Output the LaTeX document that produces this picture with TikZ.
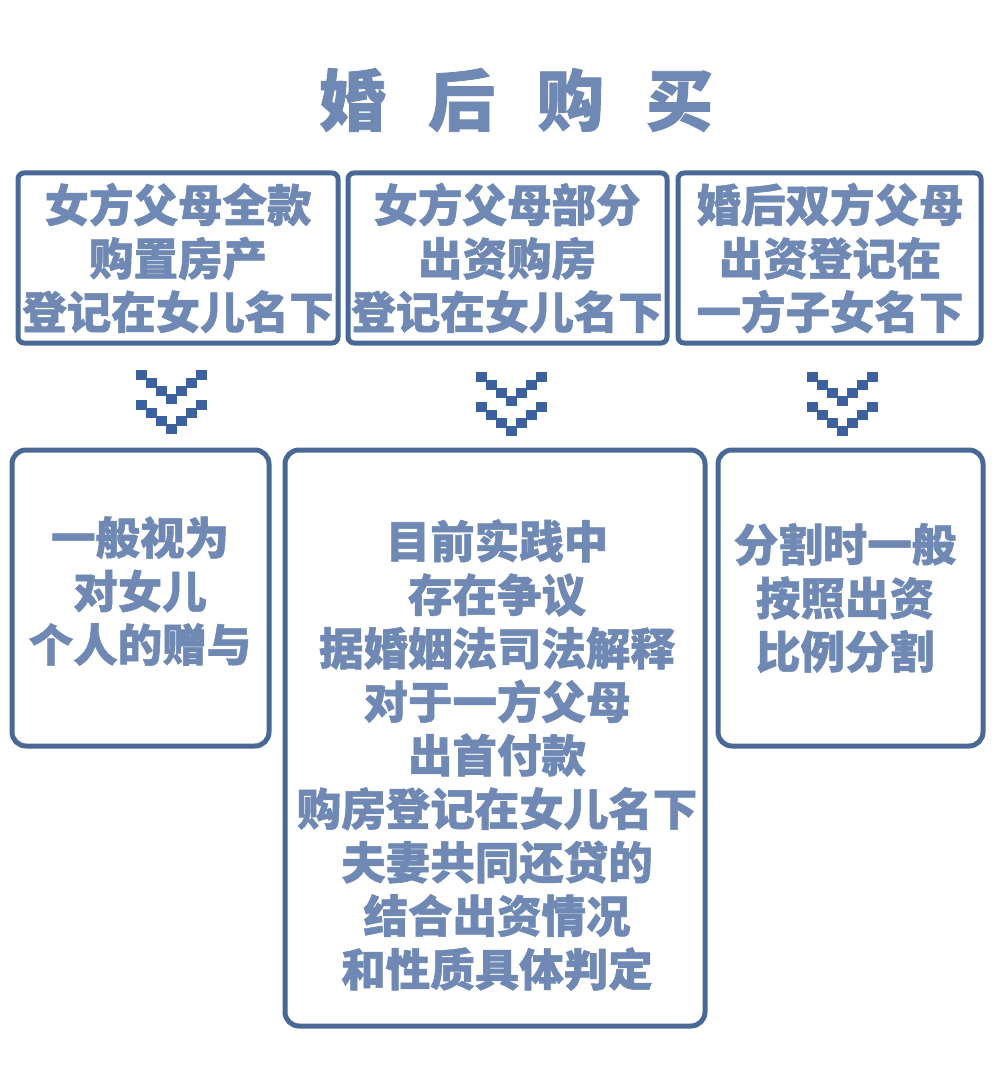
\documentclass[tikz,border=0pt]{standalone}
\usepackage{fontspec}
\newfontfamily\cjk[BoldFeatures={FakeBold=1.2}]{Noto Sans CJK SC}
\definecolor{txt}{HTML}{6F89B4}
\definecolor{frm}{HTML}{4A6896}
\definecolor{chev}{HTML}{3D609E}
\tikzset{
  boxa/.style={draw=frm, line width=5pt, rounded corners=6pt},
  boxb/.style={draw=frm, line width=5pt, rounded corners=14pt},
  lbl/.style={text=txt, align=center, inner sep=0pt, font=\cjk\bfseries\fontsize{44.5}{53.5}\selectfont},
  sq/.style={fill=chev, draw=none},
}
\newcommand{\chevron}[2]{%
  \foreach \k in {-3,...,3}{%
    \pgfmathsetmacro{\dy}{(3-abs(\k))*8}%
    \fill[sq] ({#1+\k*10-5.5},{#2+\dy}) rectangle ++(11,9.5);
    \fill[sq] ({#1+\k*10-5.5},{#2+30+\dy}) rectangle ++(11,9.5);
  }%
}
\begin{document}
\begin{tikzpicture}[x=1pt,y=-1pt]
\useasboundingbox (0,0) rectangle (1000,1067);
\fill[white] (0,0) rectangle (1000,1067);
% title
\node[text=txt, font=\cjk\bfseries\fontsize{67}{72}\selectfont, inner sep=0pt] (title) at (516,100) {婚\hspace{42pt}后\hspace{42pt}购\hspace{42pt}买};
% top boxes
\draw[boxa] (18,173) rectangle (338,343);
\draw[boxa] (348,173) rectangle (667,343);
\draw[boxa] (678,173) rectangle (981,343);
\node[lbl] (t1) at (178,258) {女方父母全款\\购置房产\\登记在女儿名下};
\node[lbl] (t2) at (507,258) {女方父母部分\\出资购房\\登记在女儿名下};
\node[lbl] (t3) at (830,258) {婚后双方父母\\出资登记在\\一方子女名下};
% chevrons
\chevron{171}{370}
\chevron{511}{372}
\chevron{842}{372}
% bottom boxes
\draw[boxb] (12,450) rectangle (269,746);
\draw[boxb] (285,450) rectangle (705,1026);
\draw[boxb] (718,450) rectangle (983,746);
\node[lbl] (b1) at (140,591) {一般视为\\对女儿\\个人的赠与};
\node[lbl] (b2) at (497,755) {目前实践中\\存在争议\\据婚姻法司法解释\\对于一方父母\\出首付款\\购房登记在女儿名下\\夫妻共同还贷的\\结合出资情况\\和性质具体判定};
\node[lbl] (b3) at (845,598) {分割时一般\\按照出资\\比例分割};
\end{tikzpicture}
\end{document}
